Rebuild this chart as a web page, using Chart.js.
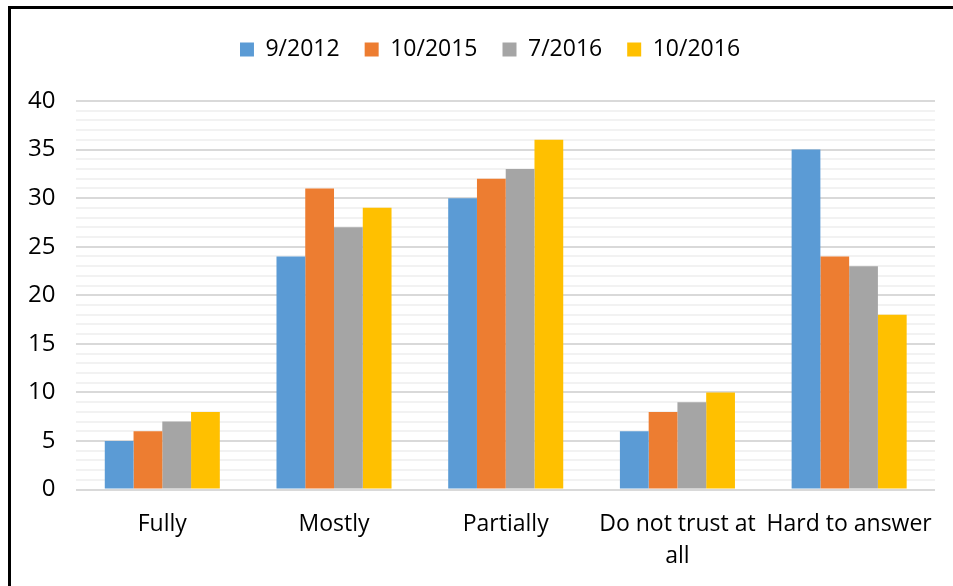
<!DOCTYPE html>
<html>
<head>
<meta charset="utf-8">
<script src="https://cdn.jsdelivr.net/npm/chart.js@4"></script>
<style>
  html, body { margin: 0; padding: 0; background: #fff; }
  #frame {
    position: absolute; left: 8px; top: 6px;
    width: 942px; height: 577px;
    border-left: 3px solid #000; border-top: 3px solid #000;
  }
  #chart { display: block; }
</style>
</head>
<body>
<div id="frame"><canvas id="chart" width="942" height="577"></canvas></div>
<script>
const categories = ["Fully", "Mostly", "Partially", ["Do not trust at", "all"], "Hard to answer"];
const seriesNames = ["9/2012", "10/2015", "7/2016", "10/2016"];
const colors = ["#5b9bd5", "#ed7d31", "#a5a5a5", "#ffc000"];
const s2012_9 = [5, 24, 30, 6, 35];
const s2015_10 = [6, 31, 32, 8, 24];
const s2016_7 = [7, 27, 33, 9, 23];
const s2016_10 = [8, 29, 36, 10, 18];
const values = [s2012_9, s2015_10, s2016_7, s2016_10];

const font = "'Open Sans', 'Liberation Sans', sans-serif";
Chart.defaults.font.family = font;
Chart.defaults.color = "#000";

// extra room under the legend, and nudge it a bit right
const legendTweak = {
    id: "legendTweak",
    beforeInit(chart) {
        const fit = chart.legend.fit;
        chart.legend.fit = function () {
            fit.bind(chart.legend)();
            this.height += 30;
        };
    },
    afterLayout(chart) {
        chart.legend.left += 19;
        chart.legend.right += 19;
    }
};

new Chart(document.getElementById("chart").getContext("2d"), {
    type: "bar",
    data: {
        labels: categories,
        datasets: seriesNames.map((name, i) => ({
            label: name,
            data: values[i],
            backgroundColor: colors[i],
            borderWidth: 0
        }))
    },
    options: {
        responsive: false,
        animation: false,
        layout: { padding: { left: -4, right: 18, top: 4, bottom: 2 } },
        datasets: { bar: { barPercentage: 1, categoryPercentage: 0.67 } },
        scales: {
            y: {
                min: 0, max: 40,
                border: { display: false },
                ticks: {
                    stepSize: 1, autoSkip: false, padding: 21,
                    font: { size: 24 },
                    callback: v => (v % 5 === 0 ? v : "")
                },
                grid: {
                    drawTicks: false,
                    lineWidth: 2,
                    color: c => (c.tick && c.tick.value % 5 === 0 ? "#d9d9d9" : "#f2f2f2")
                }
            },
            x: {
                border: { display: false },
                grid: { display: false },
                ticks: { font: { size: 23, lineHeight: 1.4 }, padding: 11, maxRotation: 0 }
            }
        },
        plugins: {
            legend: {
                position: "top",
                labels: {
                    font: { size: 23 },
                    boxWidth: 14, boxHeight: 14,
                    padding: 25
                }
            },
            tooltip: { enabled: false }
        }
    },
    plugins: [legendTweak]
});
</script>
</body>
</html>
